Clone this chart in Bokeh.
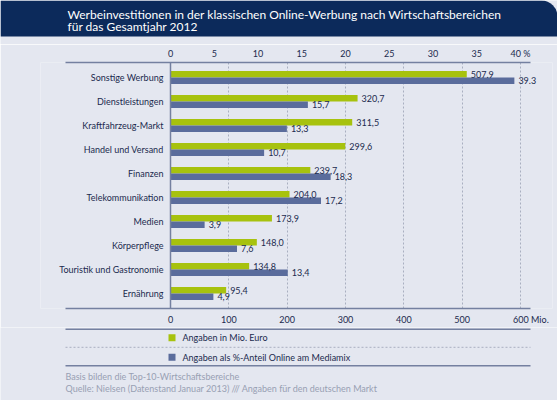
from bokeh.plotting import figure
from bokeh.layouts import column
from bokeh.core.properties import value
from bokeh.models import (ColumnDataSource, Range1d, LinearAxis, FixedTicker, Grid,
                          Span, LabelSet, Label, BoxAnnotation)
from bokeh.embed import file_html
from bokeh.resources import INLINE

# ---------------- data ----------------
categories = ["Sonstige Werbung", "Dienstleistungen", "Kraftfahrzeug-Markt",
              "Handel und Versand", "Finanzen", "Telekommunikation", "Medien",
              "Körperpflege", "Touristik und Gastronomie", "Ernährung"]
mio_euro = [507.9, 320.7, 311.5, 299.6, 239.7, 204.0, 173.9, 148.0, 134.8, 95.4]
pct_mediamix = [39.3, 15.7, 13.3, 10.7, 18.3, 17.2, 3.9, 7.6, 13.4, 4.9]
mio_labels = ["507.9", "320,7", "311,5", "299,6", "239,7", "204,0", "173,9",
              "148,0", "134,8", "95,4"]
pct_labels = ["39.3", "15,7", "13,3", "10,7", "18,3", "17,2", "3,9", "7,6",
              "13,4", "4,9"]
mio_ticks = [0, 100, 200, 300, 400, 500, 600]
pct_ticks = [0, 5, 10, 15, 20, 25, 30, 35, 40]

title_lines = ["Werbeinvestitionen in der klassischen Online-Werbung nach Wirtschaftsbereichen",
               "für das Gesamtjahr 2012"]
legend_labels = ["Angaben in Mio. Euro", "Angaben als %-Anteil Online am Mediamix"]
footnotes = ["Basis bilden die Top-10-Wirtschaftsbereiche",
             "Quelle: Nielsen (Datenstand Januar 2013) /// Angaben für den deutschen Markt"]

# ---------------- style ----------------
FONT = "Lato"
BG = "#e4e7f0"
NAVY = "#0c2a5b"
TEXT = "#1b2a4e"
GREEN = "#a7c20e"
BLUE = "#5a6c9c"
AXIS = "#7480a0"
GRID = "#a9afc0"
NOTE = "#98a0b3"

W = 557
HEADER_H = 44          # reference rows 0..44
MAIN_TOP, MAIN_BOTTOM = 44, 327
FOOTER_TOP, FOOTER_H = 327, 73

# main chart geometry (reference pixels)
PX_PER_MIO = 350 / 600.0
X0_PX = 170.0      # x pixel of value 0
ROW0_PX = 77.0     # y pixel of first row centre
ROW_PX = 24.1      # pixels per row
BAR_H = 0.27       # bar thickness in row units
frame_left, frame_right, frame_top, frame_bottom = 40, 552, 62, 309
line_left, line_right = 65, 530


def X(px):
    return (px - X0_PX) / PX_PER_MIO


def Y(py):
    return (py - ROW0_PX) / ROW_PX


def plain_figure(h):
    f = figure(width=W, height=h, output_backend="svg", toolbar_location=None,
               x_range=Range1d(0, W), y_range=Range1d(h, 0),
               x_axis_location=None, y_axis_location=None, title=None,
               min_border=0, frame_align=False)
    f.background_fill_color = BG
    f.border_fill_color = BG
    f.outline_line_color = None
    for g in f.xgrid + f.ygrid:
        g.visible = False
    return f


# ---------------- header ----------------
hdr = plain_figure(HEADER_H)
hdr.add_layout(BoxAnnotation(left=0, right=W, top=0, bottom=36,
                             fill_color=NAVY, fill_alpha=1, line_color=None,
                             border_radius=dict(top_left=0, top_right=16,
                                                bottom_right=0, bottom_left=0)))
for i, line in enumerate(title_lines):
    hdr.add_layout(Label(x=67, y=13.5 + 12.8 * i, text=line, text_font=FONT,
                         text_font_size="12px", text_color="white",
                         text_baseline="middle", text_align="left"))

# ---------------- main chart ----------------
MAIN_H = MAIN_BOTTOM - MAIN_TOP
p = figure(width=W, height=MAIN_H, output_backend="svg", toolbar_location=None,
           x_range=Range1d(X(frame_left), X(frame_right)),
           y_range=Range1d(Y(frame_bottom), Y(frame_top)),
           x_axis_location=None, y_axis_location=None, title=None,
           min_border_left=frame_left, min_border_right=W - frame_right,
           min_border_top=frame_top - MAIN_TOP,
           min_border_bottom=MAIN_BOTTOM - frame_bottom, frame_align=False)
p.extra_x_ranges = {"pct": Range1d(X(frame_left) / 15.0, X(frame_right) / 15.0)}
p.background_fill_color = BG
p.border_fill_color = BG
p.outline_line_color = None
for g in p.xgrid + p.ygrid:
    g.visible = False

idx = list(range(len(categories)))
src = ColumnDataSource(dict(
    cat=categories, mio=mio_euro, pct=pct_mediamix,
    mio_lab=mio_labels, pct_lab=pct_labels,
    y=idx,
    yg=[i - BAR_H / 2 for i in idx],
    yb=[i + BAR_H / 2 for i in idx],
))

p.add_layout(Grid(dimension=0, ticker=FixedTicker(ticks=mio_ticks[1:]),
                  grid_line_color=GRID, grid_line_dash="2 2", grid_line_width=1))

p.hbar(y="yg", left=0, right="mio", height=BAR_H, source=src,
       fill_color=GREEN, line_color=None)
p.hbar(y="yb", left=0, right="pct", height=BAR_H, source=src,
       fill_color=BLUE, line_color=None, x_range_name="pct")


def style_axis(ax, standoff):
    ax.axis_line_color = AXIS
    ax.axis_line_width = 1.5
    ax.major_tick_line_color = None
    ax.minor_tick_line_color = None
    ax.major_tick_out = 0
    ax.major_tick_in = 0
    ax.minor_tick_out = 0
    ax.major_label_standoff = standoff
    ax.major_label_text_font = FONT
    ax.major_label_text_font_size = "9px"
    ax.major_label_text_color = TEXT


F = "\u2007"
ax_bottom = LinearAxis(ticker=FixedTicker(ticks=mio_ticks),
                       major_label_overrides={600: F * 4 + "600 Mio."},
                       bounds=(X(line_left), X(line_right)))
style_axis(ax_bottom, 5)
p.add_layout(ax_bottom, "below")

ax_top = LinearAxis(x_range_name="pct", ticker=FixedTicker(ticks=pct_ticks),
                    major_label_overrides={40: "40 %"},
                    bounds=(X(line_left) / 15.0, X(line_right) / 15.0))
style_axis(ax_top, 4)
p.add_layout(ax_top, "above")

p.add_layout(Span(location=0, dimension="height", line_color=AXIS, line_width=1.5))

set_common = dict(text_font=value(FONT), text_font_size=value("9px"),
                  text_color=value(TEXT), text_baseline=value("middle"))
p.add_layout(LabelSet(x=0, y="y", text="cat", source=src, x_offset=-7,
                      text_align=value("right"), **set_common))
p.add_layout(LabelSet(x="mio", y="yg", text="mio_lab", source=src, x_offset=4,
                      text_align=value("left"), **set_common))
p.add_layout(LabelSet(x="pct", y="yb", text="pct_lab", source=src, x_offset=4,
                      x_range_name="pct", text_align=value("left"), **set_common))

# ---------------- footer: legend and notes ----------------
ftr = plain_figure(FOOTER_H)


def FY(py):
    return py - FOOTER_TOP


ftr.segment(x0=[line_left, line_left], x1=[line_right, line_right],
            y0=[FY(328.7), FY(365.3)], y1=[FY(328.7), FY(365.3)],
            line_color=AXIS, line_width=1.5)
ftr.segment(x0=[line_left], x1=[line_right], y0=[FY(346.8)], y1=[FY(346.8)],
            line_color=GRID, line_width=1, line_dash="2 2")

common = dict(text_font=FONT, text_font_size="9px", text_color=TEXT,
              text_baseline="middle")
for i, (lab, col) in enumerate(zip(legend_labels, [GREEN, BLUE])):
    yc = 337.3 + 19.4 * i
    ftr.add_layout(BoxAnnotation(left=168, right=175, top=FY(yc - 3.5),
                                 bottom=FY(yc + 3.5), fill_color=col, fill_alpha=1,
                                 line_color=None))
    ftr.add_layout(Label(x=182, y=FY(yc), text=lab, text_align="left", **common))

for i, note in enumerate(footnotes):
    ftr.add_layout(Label(x=65, y=FY(376 + 12.3 * i), text=note, text_font=FONT,
                         text_font_size="9px", text_color=NOTE,
                         text_baseline="middle", text_align="left"))

layout = column(hdr, p, ftr, spacing=0)
open("out.html", "w").write(file_html(layout, INLINE))
